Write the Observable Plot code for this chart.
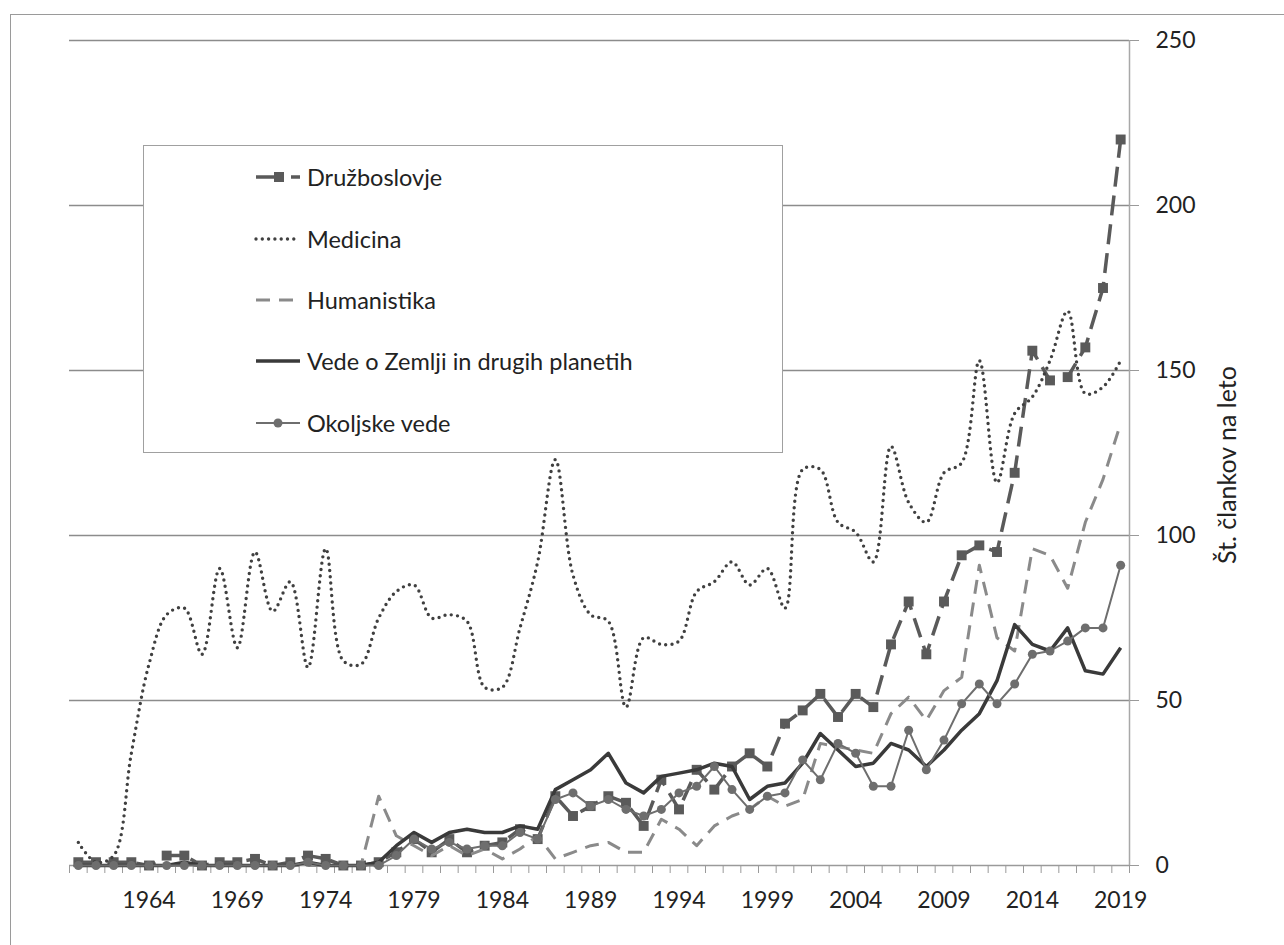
<!DOCTYPE html>
<html><head><meta charset="utf-8">
<script src="https://cdn.jsdelivr.net/npm/d3@7"></script>
<script src="https://cdn.jsdelivr.net/npm/@observablehq/plot@0.6"></script>
<style>
html,body{margin:0;padding:0;background:#fff;}
#wrap{position:relative;width:1284px;height:945px;overflow:hidden;font-family:Lato,sans-serif;}
#frame{position:absolute;left:10px;top:14px;width:1300px;height:1000px;border-top:1.5px solid #9a9a9a;border-left:1.5px solid #9a9a9a;pointer-events:none;}
#legend{position:absolute;left:143px;top:145px;width:640px;height:308px;border:1.5px solid #a0a0a0;background:#fff;box-sizing:border-box;}
.row{position:absolute;left:110px;height:30px;display:flex;align-items:center;font-size:23.5px;color:#222;white-space:nowrap;}
.row svg{margin-right:5px;}
</style></head>
<body><div id="wrap"><div id="chart"></div><div id="frame"></div><div id="legend"></div></div>
<script>
const years = d3.range(1960, 2020);
const seriesNames = ["Družboslovje", "Medicina", "Humanistika", "Vede o Zemlji in drugih planetih", "Okoljske vede"];
const druzboslovje = [1,1,1,1,0,3,3,0,1,1, 2,0,1,3,2,0,0,1,4,8, 4,8,4,6,7,11,8,21,15,18, 21,19,12,26,17,29,23,30,34,30, 43,47,52,45,52,48,67,80,64,80, 94,97,95,119,156,147,148,157,175,220];
const medicina = [7,1,3,34,61,76,78,64,90,66, 95,77,86,60,96,62,61,75,83,85, 75,76,74,54,54,72,92,123,88,76, 74,48,69,67,68,83,86,92,85,90, 78,120,120,104,101,92,127,110,104,119, 122,153,116,137,142,153,168,143,145,153];
const humanistika = [0,0,0,0,0,0,0,0,0,0, 0,0,0,0,0,0,0,21,9,6, 3,6,3,5,2,5,9,2,4,6, 7,4,4,14,11,6,12,15,17,21, 18,20,37,36,35,34,46,51,44,53, 57,91,69,65,96,94,84,104,117,134];
const vede = [0,0,0,0,0,0,1,0,0,0, 0,0,0,1,0,0,0,1,6,10, 7,10,11,10,10,12,11,23,26,29, 34,25,22,27,28,29,31,30,20,24, 25,31,40,35,30,31,37,35,30,35, 41,46,56,73,67,65,72,59,58,66];
const okoljske = [0,0,0,0,0,0,0,0,0,0, 0,0,0,1,0,0,0,0,3,8, 5,7,5,6,6,10,8,20,22,18, 20,17,15,17,22,24,30,23,17,21, 22,32,26,37,34,24,24,41,29,38, 49,55,49,55,64,65,68,72,72,91];
const labelYears = [1964,1969,1974,1979,1984,1989,1994,1999,2004,2009,2014,2019];
const yTicks = [0,50,100,150,200,250];
const yTitle = "Št. člankov na leto";

const valuesList = [druzboslovje, medicina, humanistika, vede, okoljske];
const looks = [
  {stroke:"#5a5a5a", strokeWidth:3.5, dash:"20,9", symbol:"square", r:5.6, cap:"butt"},
  {stroke:"#404040", strokeWidth:3.4, dash:"0,6.3", symbol:null, cap:"round", curve:"catmull-rom"},
  {stroke:"#8a8a8a", strokeWidth:3, dash:"14,9", symbol:null, cap:"butt"},
  {stroke:"#3a3a3a", strokeWidth:3.5, dash:null, symbol:null, cap:"butt"},
  {stroke:"#6e6e6e", strokeWidth:2, dash:null, symbol:"circle", r:4.5, cap:"butt"}
];
const rows = (vals) => years.map((year, i) => ({year, value: vals[i]}));

const seriesMarks = [];
valuesList.forEach((vals, k) => {
  const L = looks[k];
  seriesMarks.push(Plot.line(rows(vals), {x:"year", y:"value", stroke:L.stroke, strokeWidth:L.strokeWidth,
    strokeDasharray:L.dash || undefined, strokeLinecap:L.cap, strokeLinejoin:"round", curve:L.curve || "linear"}));
  if (L.symbol) seriesMarks.push(Plot.dot(rows(vals), {x:"year", y:"value", symbol:L.symbol, r:L.r, fill:L.stroke, stroke:"none"}));
});

const chart = Plot.plot({
  width:1284, height:945,
  marginLeft:69, marginRight:155, marginTop:40, marginBottom:80,
  style:{fontFamily:"Lato, sans-serif", fontSize:"23px", color:"#222", background:"transparent"},
  x:{domain:[1959.5, 2019.5]},
  y:{domain:[0, 250]},
  marks:[
    Plot.ruleY(yTicks.slice(1), {stroke:"#8c8c8c", strokeWidth:1.5}),
    Plot.ruleY([0], {stroke:"#9a9a9a", strokeWidth:1.5}),
    Plot.ruleX([2019.5], {y1:0, y2:250, stroke:"#a8a8a8", strokeWidth:1.5}),
    Plot.axisX({ticks:d3.range(1959.5, 2020, 1), tickSize:8, tickFormat:() => "", stroke:"#9a9a9a", label:null}),
    Plot.axisX({ticks:labelYears, tickSize:0, tickPadding:26, tickFormat:d => String(d), label:null}),
    Plot.axisY({anchor:"right", ticks:yTicks, tickSize:9, tickPadding:17, stroke:"#9a9a9a", label:null}),
    Plot.text([yTitle], {text:d => d, frameAnchor:"right", textAnchor:"middle", lineAnchor:"middle", rotate:-90, dx:98, dy:12, fontSize:25, fill:"#222"}),
    ...seriesMarks
  ]
});
document.getElementById("chart").appendChild(chart);

// legend (HTML overlay inside plot area)
const legend = document.getElementById("legend");
const rowTops = [31, 93, 154, 215, 277];
seriesNames.forEach((name, k) => {
  const L = looks[k];
  const row = document.createElement("div");
  row.className = "row";
  row.style.top = (rowTops[k] - 15) + "px";
  const ns = "http://www.w3.org/2000/svg";
  const svg = document.createElementNS(ns, "svg");
  svg.setAttribute("width", 48); svg.setAttribute("height", 20);
  const ln = document.createElementNS(ns, "line");
  ln.setAttribute("x1", 2); ln.setAttribute("x2", 46); ln.setAttribute("y1", 10); ln.setAttribute("y2", 10);
  ln.setAttribute("stroke", L.stroke); ln.setAttribute("stroke-width", L.strokeWidth);
  if (L.dash) ln.setAttribute("stroke-dasharray", k === 0 ? "26,9" : L.dash);
  ln.setAttribute("stroke-linecap", L.cap);
  svg.appendChild(ln);
  if (L.symbol === "square") {
    const r = document.createElementNS(ns, "rect");
    r.setAttribute("x", 20); r.setAttribute("y", 5); r.setAttribute("width", 10); r.setAttribute("height", 10);
    r.setAttribute("fill", L.stroke); svg.appendChild(r);
  } else if (L.symbol === "circle") {
    const c = document.createElementNS(ns, "circle");
    c.setAttribute("cx", 24); c.setAttribute("cy", 10); c.setAttribute("r", 4.5);
    c.setAttribute("fill", L.stroke); svg.appendChild(c);
  }
  row.appendChild(svg);
  const span = document.createElement("span");
  span.textContent = name;
  row.appendChild(span);
  legend.appendChild(row);
});
</script>
</body></html>
